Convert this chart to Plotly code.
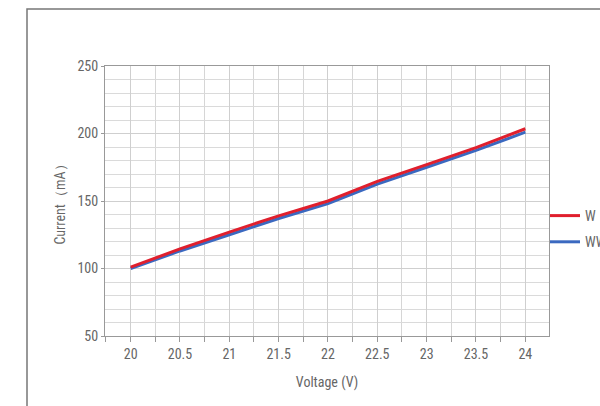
import plotly.graph_objects as go

voltage = [20, 20.5, 21, 21.5, 22, 22.5, 23, 23.5, 24]
current_w = [101, 114.5, 127, 139, 150, 164.5, 177, 189.5, 203.5]
current_ww = [100, 113, 125, 137, 148, 162.5, 175, 187.5, 201]
series_names = ["W", "WW"]
x_title = "Voltage (V)"
y_title = "Current（mA）"

FONT = "Liberation Sans Narrow, Arial Narrow, Roboto Condensed, Roboto, sans-serif"
W, H = 600, 406
ml, mr, mt, mb = 105, 51, 66, 70

fig = go.Figure()
fig.add_trace(go.Scatter(x=voltage, y=current_ww, mode="lines", name=series_names[1],
                         legendgroup="b", legendrank=2,
                         line=dict(color="#3b69c0", width=3)))
fig.add_trace(go.Scatter(x=voltage, y=current_w, mode="lines", name=series_names[0],
                         legendgroup="a", legendrank=1,
                         line=dict(color="#e01f2d", width=3)))

pw = W - ml - mr
ph = H - mt - mb
def px_x(p):
    return (p - ml) / pw
def px_y(p):
    return (H - mb - p) / ph

fig.add_shape(type="rect", xref="paper", yref="paper",
              x0=px_x(27), x1=px_x(700), y0=px_y(500), y1=px_y(9),
              line=dict(color="#777777", width=1.5), layer="above")

fig.update_layout(
    width=W, height=H,
    margin=dict(l=ml, r=mr, t=mt, b=mb, autoexpand=False),
    paper_bgcolor="white", plot_bgcolor="white",
    font=dict(family=FONT, size=13, color="#666666"),
    showlegend=True,
    legend=dict(x=px_x(545), y=px_y(200), xanchor="left", yanchor="top",
                font=dict(size=14, color="#666666"),
                bgcolor="rgba(0,0,0,0)", tracegroupgap=5),
    xaxis=dict(range=[19.74, 24.24], tick0=20, dtick=0.5, ticks="outside", ticklen=5,
               tickcolor="#999999", showgrid=True, gridcolor="#cfcfcf", gridwidth=1,
               showline=True, linecolor="#999999", mirror=True, zeroline=False,
               minor=dict(dtick=0.25, tick0=20, ticks="outside", ticklen=5, tickcolor="#999999",
                          showgrid=True, gridcolor="#d6d6d6"),
               title=dict(text=x_title, standoff=16, font=dict(size=14)),
               tickfont=dict(size=14)),
    yaxis=dict(range=[50, 250], dtick=50, ticks="outside", ticklen=3, tickcolor="#999999",
               showgrid=True, gridcolor="#cfcfcf", showline=True, linecolor="#999999",
               mirror=True, zeroline=False,
               minor=dict(dtick=10, showgrid=True, gridcolor="#dadada"),
               title=dict(text=y_title, standoff=8, font=dict(size=14)),
               tickfont=dict(size=14)),
)

fig.write_html("out.html", config={"displayModeBar": False},
               post_script="document.body.style.margin='0';document.body.style.overflow='hidden';")
